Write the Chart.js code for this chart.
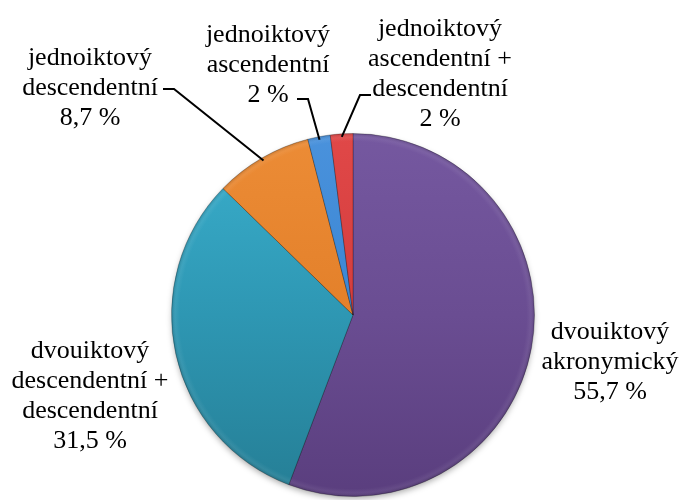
<!DOCTYPE html>
<html>
<head>
<meta charset="utf-8">
<script src="https://cdn.jsdelivr.net/npm/chart.js@4.4.1/dist/chart.umd.min.js"></script>
<style>
  html, body { margin: 0; padding: 0; background: #fff; }
  #wrap { width: 686px; height: 500px; position: relative; }
  .popisek {
    position: absolute;
    width: 220px;
    text-align: center;
    font-family: "Liberation Serif", "Times New Roman", serif;
    font-size: 26px;
    line-height: 30px;
    color: #000;
    white-space: nowrap;
    pointer-events: none;
  }
</style>
</head>
<body>
<div id="wrap"><canvas id="graf"></canvas></div>
<script>
// data
const kategorie = [
    ['dvouiktový', 'akronymický'],
    ['dvouiktový', 'descendentní +', 'descendentní'],
    ['jednoiktový', 'descendentní'],
    ['jednoiktový', 'ascendentní'],
    ['jednoiktový', 'ascendentní +', 'descendentní']
];
const hodnoty = [55.7, 31.5, 8.7, 2, 2];

// colours (top, middle, bottom of gradient)
const barvy = [
    ['#7558a0', '#6a4d92', '#5a3e7e'],
    ['#3aafcd', '#2e97b3', '#257e95'],
    ['#ec8c36', '#e3802a', '#d5731f'],
    ['#4a92dc', '#3b86d3', '#2f74c0'],
    ['#e04848', '#d43d3d', '#c23232']
];

// label placement: centre x, first line middle y, optional leader start [x1, x2, y]
const popisky = [
    { x: 610, y: 331, vodic: null },
    { x: 90, y: 350, vodic: null },
    { x: 90, y: 57, vodic: [163, 174, 89] },
    { x: 268, y: 34, vodic: [297, 308, 99] },
    { x: 440, y: 28, vodic: [371, 360, 95] }
];
const RADEK = 30;

function formatProcent(v) {
    return String(v).replace('.', ',') + ' %';
}

function gradient(chart, i) {
    const { ctx, chartArea } = chart;
    if (!chartArea) return barvy[i][1];
    const g = ctx.createLinearGradient(0, chartArea.top, 0, chartArea.bottom);
    g.addColorStop(0, barvy[i][0]);
    g.addColorStop(0.5, barvy[i][1]);
    g.addColorStop(1, barvy[i][2]);
    return g;
}

const stinPlugin = {
    id: 'stin',
    beforeDatasetsDraw(chart) {
        const arc = chart.getDatasetMeta(0).data[0];
        if (!arc) return;
        const { x, y, outerRadius } = arc.getProps(['x', 'y', 'outerRadius'], true);
        const ctx = chart.ctx;
        ctx.save();
        ctx.shadowColor = 'rgba(0,0,0,0.35)';
        ctx.shadowBlur = 6;
        ctx.shadowOffsetY = 3;
        ctx.fillStyle = '#666';
        ctx.beginPath();
        ctx.arc(x, y, outerRadius - 1, 0, Math.PI * 2);
        ctx.fill();
        ctx.restore();
    },
    afterDatasetsDraw(chart) {
        // soft bevel along the rim
        const arc = chart.getDatasetMeta(0).data[0];
        const { x, y, outerRadius } = arc.getProps(['x', 'y', 'outerRadius'], true);
        const ctx = chart.ctx;
        ctx.save();
        const g = ctx.createRadialGradient(x, y, outerRadius - 8, x, y, outerRadius);
        g.addColorStop(0, 'rgba(255,255,255,0)');
        g.addColorStop(0.5, 'rgba(255,255,255,0.06)');
        g.addColorStop(1, 'rgba(0,0,0,0.15)');
        ctx.fillStyle = g;
        ctx.beginPath();
        ctx.arc(x, y, outerRadius, 0, Math.PI * 2);
        ctx.fill();
        ctx.restore();
    }
};

// leader lines on the canvas, label text as html over it
const popiskyPlugin = {
    id: 'popisky',
    afterDraw(chart) {
        const ctx = chart.ctx;
        const meta = chart.getDatasetMeta(0);
        ctx.save();
        ctx.strokeStyle = '#000';
        ctx.lineWidth = 2;
        popisky.forEach((p, i) => {
            if (!p.vodic) return;
            const a = meta.data[i].getProps(['x', 'y', 'startAngle', 'endAngle', 'outerRadius'], true);
            const uhel = (a.startAngle + a.endAngle) / 2;
            const r = a.outerRadius - 3;
            ctx.beginPath();
            ctx.moveTo(p.vodic[0], p.vodic[2]);
            ctx.lineTo(p.vodic[1], p.vodic[2]);
            ctx.lineTo(a.x + Math.cos(uhel) * r, a.y + Math.sin(uhel) * r);
            ctx.stroke();
        });
        ctx.restore();
    }
};

function vlozPopisky() {
    const wrap = document.getElementById('wrap');
    popisky.forEach((p, i) => {
        const div = document.createElement('div');
        div.className = 'popisek';
        div.style.left = (p.x - 110) + 'px';
        div.style.top = (p.y - RADEK / 2) + 'px';
        kategorie[i].concat([formatProcent(hodnoty[i])]).forEach(t => {
            const radek = document.createElement('div');
            radek.textContent = t;
            div.appendChild(radek);
        });
        wrap.appendChild(div);
    });
}

new Chart(document.getElementById('graf'), {
    type: 'pie',
    data: {
        labels: kategorie.map(k => k.join(' ')),
        datasets: [{
            data: hodnoty,
            backgroundColor: c => gradient(c.chart, c.dataIndex),
            borderColor: 'rgba(0,0,0,0.25)',
            borderWidth: 1,
            hoverOffset: 0
        }]
    },
    options: {
        responsive: true,
        maintainAspectRatio: false,
        animation: false,
        layout: { padding: { left: 171, right: 151, top: 133, bottom: 3 } },
        plugins: {
            legend: { display: false },
            tooltip: { enabled: false }
        }
    },
    plugins: [stinPlugin, popiskyPlugin]
});
vlozPopisky();
</script>
</body>
</html>
